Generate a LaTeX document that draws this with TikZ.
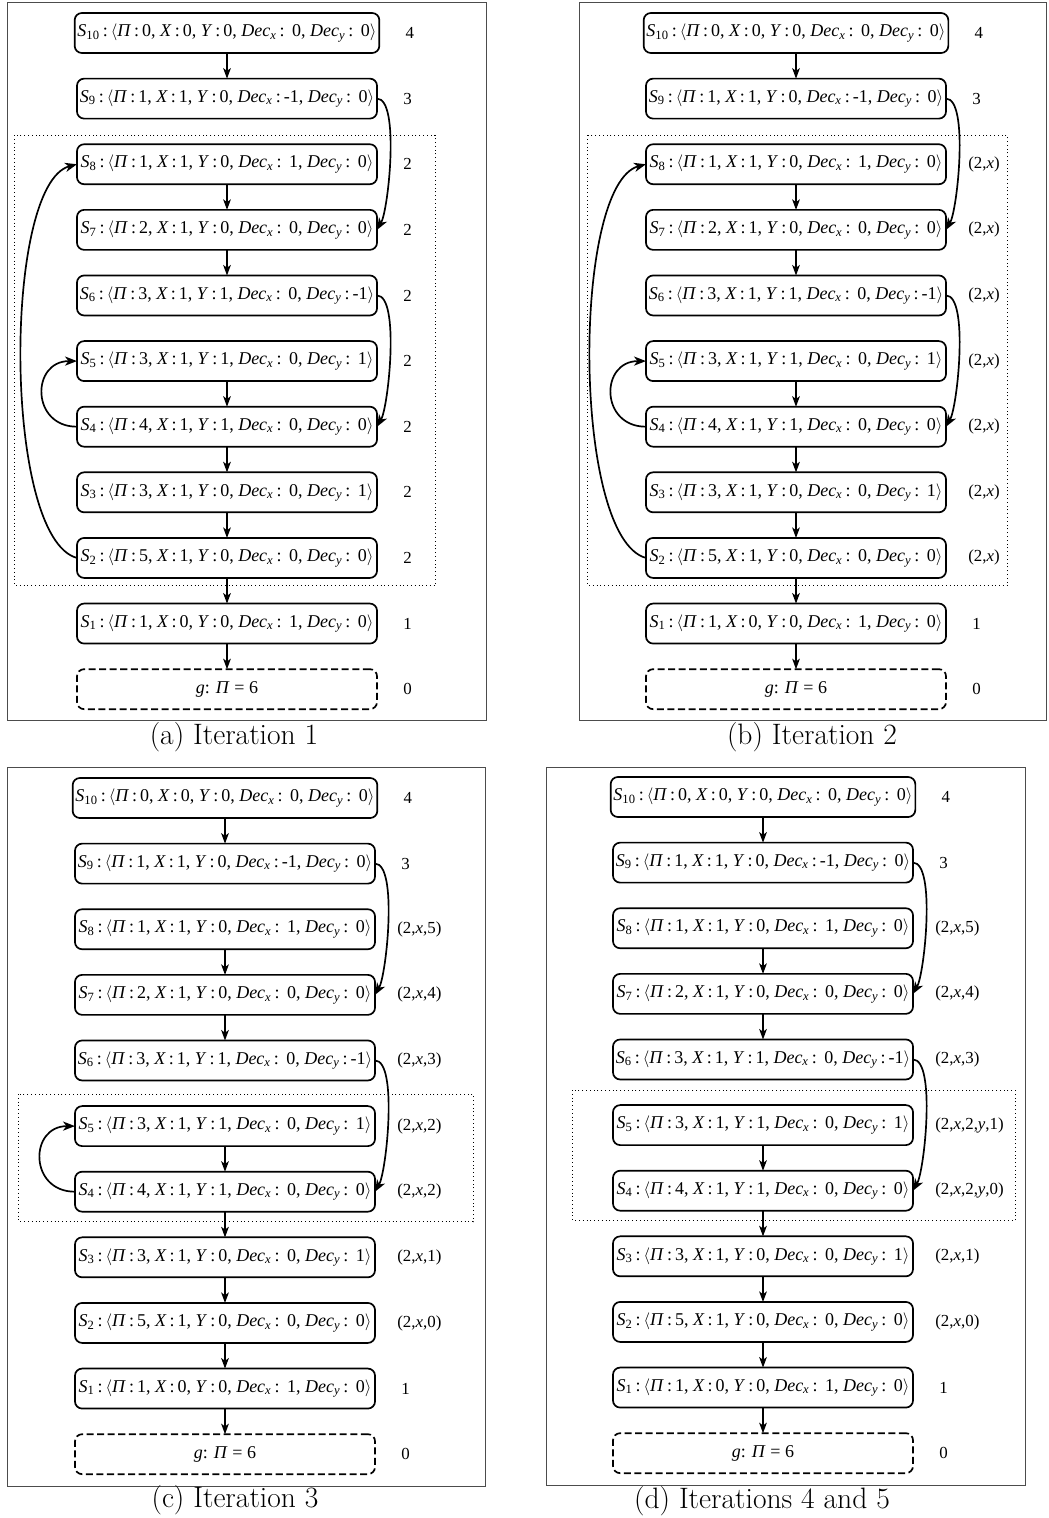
\documentclass[tikz,border=0pt]{standalone}
\usepackage{fontspec}
\usepackage{tikz}
\usetikzlibrary{arrows.meta, positioning, calc}
\newfontfamily\timesfont{Liberation Serif}
\newcommand{\stt}[6]{\textit{S}\textsubscript{#1}\,:\,$\langle$\textit{Π}\,:\,#2, \textit{X}\,:\,#3, \textit{Y}\,:\,#4, \textit{Dec}\textsubscript{\textit{x}}\,:\,#5, \textit{Dec}\textsubscript{\textit{y}}\,:\,#6$\rangle$}

\begin{document}
\begin{tikzpicture}[x=0.025cm, y=0.025cm,
        stbox/.style={draw, line width=1.2pt, rounded corners=0.18cm, outer sep=0pt,
                      minimum width=7.5cm, minimum height=1cm, inner xsep=2pt,
                      font=\timesfont\fontsize{12.8}{15}\selectfont},
        goalbox/.style={stbox, dash pattern=on 5pt off 2.5pt},
        val/.style={inner sep=0pt, font=\timesfont\fontsize{12}{14}\selectfont},
        arr/.style={-{Stealth[length=7.5pt, width=5.5pt, inset=2pt]}, line width=0.8pt},
        jump/.style={-{Stealth[length=8.5pt, width=6.5pt, inset=2.5pt]}, line width=1.2pt},
        panel/.style={draw=black!70, line width=0.6pt},
        loopbox/.style={dotted, line width=0.7pt},
        subcap/.style={font=\fontsize{21}{24}\selectfont},
        node distance=0.64cm
    ]
    \useasboundingbox (0,0) rectangle (1048,-1518);
    % frames of the four panels
    \draw[panel] (7,-2) rectangle (486,-720);
    \draw[panel] (579,-2) rectangle (1046,-720);
    \draw[panel] (7,-767) rectangle (485,-1486);
    \draw[panel] (546,-767) rectangle (1025,-1485);

    % the same chain of states in every panel
    \foreach \p/\cx/\cy in {a/227/-33, b/796/-33, c/225/-798, d/763/-797} {
        \node[stbox] (\p10) at (\cx,\cy) {\stt{10}{0}{0}{0}{~0}{~0}};
        \node[stbox, below=of \p10] (\p9) {\stt{9}{1}{1}{0}{-1}{~0}};
        \node[stbox, below=of \p9] (\p8) {\stt{8}{1}{1}{0}{~1}{~0}};
        \node[stbox, below=of \p8] (\p7) {\stt{7}{2}{1}{0}{~0}{~0}};
        \node[stbox, below=of \p7] (\p6) {\stt{6}{3}{1}{1}{~0}{-1}};
        \node[stbox, below=of \p6] (\p5) {\stt{5}{3}{1}{1}{~0}{~1}};
        \node[stbox, below=of \p5] (\p4) {\stt{4}{4}{1}{1}{~0}{~0}};
        \node[stbox, below=of \p4] (\p3) {\stt{3}{3}{1}{0}{~0}{~1}};
        \node[stbox, below=of \p3] (\p2) {\stt{2}{5}{1}{0}{~0}{~0}};
        \node[stbox, below=of \p2] (\p1) {\stt{1}{1}{0}{0}{~1}{~0}};
        \node[goalbox, below=of \p1] (\p g) {\textit{g}: \textit{Π} = 6};
        \foreach \i/\j in {10/9, 8/7, 7/6, 5/4, 4/3, 3/2, 2/1, 1/g}
            \draw[arr] (\p\i) -- (\p\j);
        \draw[jump] (\p9.east) to[out=0, in=60, looseness=0.45] (\p7.east);
        \draw[jump] (\p6.east) to[out=0, in=60, looseness=0.45] (\p4.east);
        \foreach \n/\t in {10/4, 9/3, 1/1, g/0}
            \node[val, right=0.65cm of \p\n] (l\p\n) {\t};
    }

    % values of the middle states
    \foreach \n in {8,...,2}
        \node[val, right=0.65cm of a\n] (la\n) {2};
    \foreach \n in {8,...,2}
        \node[val, right=0.55cm of b\n] (lb\n) {(2,\textit{x})};
    \foreach \n/\t in {8/5, 7/4, 6/3, 5/2, 4/2, 3/1, 2/0}
        \node[val, right=0.55cm of c\n] (lc\n) {(2,\textit{x},\t)};
    \foreach \n/\t in {8/5, 7/4, 6/3, 5/{2,\textit{y},1}, 4/{2,\textit{y},0}, 3/1, 2/0}
        \node[val, right=0.55cm of d\n] (ld\n) {(2,\textit{x},\t)};

    % back edges on the left
    \foreach \p in {a,b}
        \draw[jump] (\p2.west) to[out=165, in=195, looseness=0.5] (\p8.west);
    \foreach \p in {a,b,c}
        \draw[jump] (\p4.west) to[out=180, in=180, looseness=1.8] (\p5.west);

    % dotted groups
    \draw[loopbox] ($(a8.north west)+(-62,9)$) rectangle ($(a2.south east)+(58,-8)$);
    \draw[loopbox] ($(b8.north west)+(-58,9)$) rectangle ($(b2.south east)+(61,-8)$);
    \draw[loopbox] ($(c5.north west)+(-56,12)$) rectangle ($(c4.south east)+(98,-10)$);
    \draw[loopbox] ($(d5.north west)+(-40,15)$) rectangle ($(d4.south east)+(102,-10)$);

    \node[subcap] (capa) at (234,-737) {(a) Iteration 1};
    \node[subcap] (capb) at (812,-737) {(b) Iteration 2};
    \node[subcap] (capc) at (235,-1500) {(c) Iteration 3};
    \node[subcap] (capd) at (762,-1501) {(d) Iterations 4 and 5};
\end{tikzpicture}
\end{document}
